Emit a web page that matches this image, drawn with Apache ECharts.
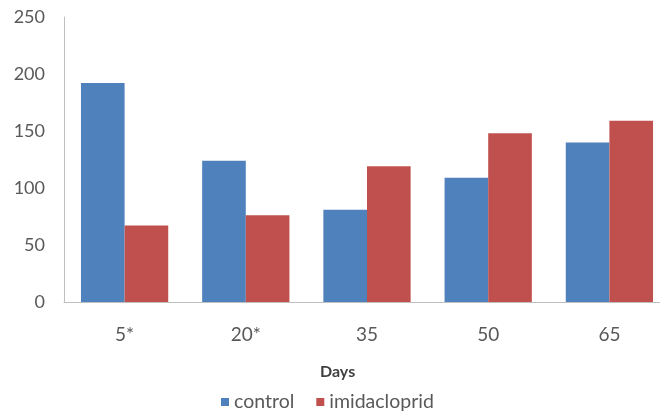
<!DOCTYPE html>
<html>
<head>
<meta charset="utf-8">
<script src="https://cdn.jsdelivr.net/npm/echarts@6/dist/echarts.min.js"></script>
<style>
html,body{margin:0;padding:0;background:#fff;overflow:hidden;width:660px;height:413px;}
#chart{width:680px;height:413px;}
</style>
</head>
<body>
<div id="chart"></div>
<script>
var categories = ['5*', '20*', '35', '50', '65'];
var controlValues = [192, 124, 81, 109, 140];
var imidaclopridValues = [67, 76, 119, 148, 159];
var seriesNames = ['control', 'imidacloprid'];
var xAxisTitle = 'Days';

var FONT = 'Lato';
var TEXT = '#595959';
var chart = echarts.init(document.getElementById('chart'), null, {renderer: 'canvas'});
chart.setOption({
  animation: false,
  backgroundColor: '#ffffff',
  title: {
    text: xAxisTitle,
    left: 320,
    top: 364,
    padding: 0,
    textStyle: {fontFamily: FONT, fontSize: 16, fontWeight: 'bold', color: '#404040'}
  },
  legend: {
    data: seriesNames,
    left: 221,
    top: 392,
    padding: 0,
    icon: 'rect',
    itemWidth: 8,
    itemHeight: 8,
    itemGap: 22,
    textStyle: {fontFamily: FONT, fontSize: 19.5, color: TEXT, padding: [0, 0, 0, 0]}
  },
  grid: {left: 64, top: 17, width: 606, height: 285, containLabel: false},
  xAxis: {
    type: 'category',
    data: categories,
    axisLine: {lineStyle: {color: '#BFBFBF', width: 1}},
    axisTick: {show: false},
    axisLabel: {fontFamily: FONT, fontSize: 19, color: TEXT, margin: 23}
  },
  yAxis: {
    type: 'value',
    min: 0,
    max: 250,
    interval: 50,
    axisLine: {show: true, lineStyle: {color: '#BFBFBF', width: 1}},
    axisTick: {show: false},
    splitLine: {show: false},
    axisLabel: {fontFamily: FONT, fontSize: 18, color: TEXT, margin: 19}
  },
  series: [
    {name: seriesNames[0], type: 'bar', data: controlValues, barGap: '0%', barCategoryGap: '28%',
     itemStyle: {color: '#4F81BD'}},
    {name: seriesNames[1], type: 'bar', data: imidaclopridValues, barGap: '0%', barCategoryGap: '28%',
     itemStyle: {color: '#C0504D'}}
  ]
});
</script>
</body>
</html>
